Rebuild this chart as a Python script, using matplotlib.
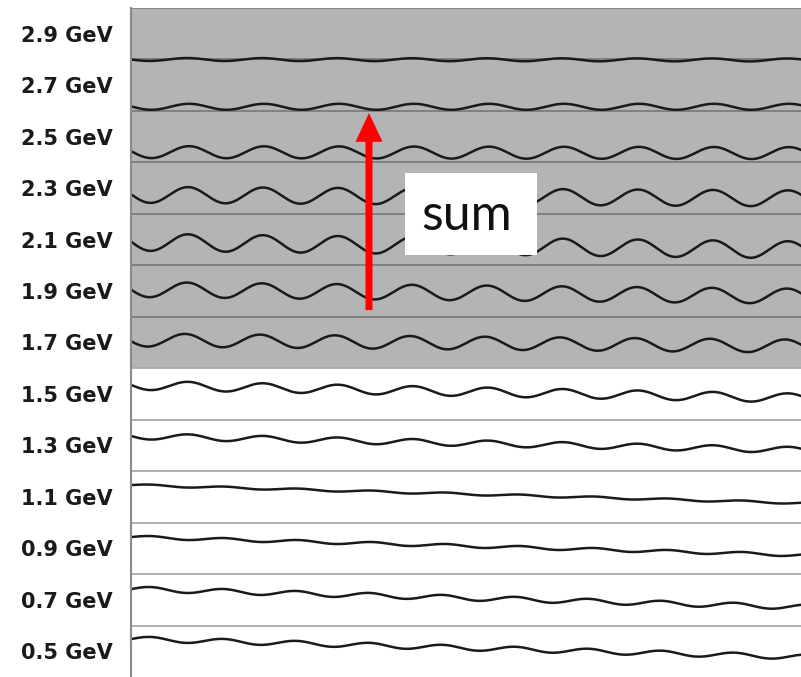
import numpy as np
import matplotlib
matplotlib.use("Agg")
import matplotlib.pyplot as plt
from matplotlib.patches import FancyArrow, Rectangle

# rows, bottom to top
energies = ["0.5 GeV", "0.7 GeV", "0.9 GeV", "1.1 GeV", "1.3 GeV", "1.5 GeV", "1.7 GeV",
            "1.9 GeV", "2.1 GeV", "2.3 GeV", "2.5 GeV", "2.7 GeV", "2.9 GeV"]
# wave centre (in row units) at the left and right end of the trace
centre_left = [0.74, 1.71, 2.72, 3.73, 4.68, 5.67, 6.55, 7.53, 8.45, 9.37, 10.20, 11.08, 12.00]
centre_right = [0.39, 1.36, 2.37, 3.38, 4.41, 5.42, 6.43, 7.40, 8.30, 9.30, 10.18, 11.08, 11.99]
# oscillation amplitude (px), period (px) and first crest position (px)
amplitude = [2.5, 2.5, 1.5, 1.0, 3.0, 4.5, 6.5, 7.5, 8.5, 8.0, 6.0, 3.0, 1.5]
period = [73, 73, 74, 74, 75, 75, 75, 75, 75, 75, 75, 75, 75]
crest = [19, 19, 19, 19, 57, 57, 54, 56, 57, 57, 58, 58, 56]
n_summed = 7   # top rows that go into the sum

width_px = 670
row_px = 669 / 13

fig = plt.figure(figsize=(8.01, 6.77), dpi=100)
ax = fig.add_axes([131 / 801, 0, 670 / 801, 669 / 677])

n = len(energies)
ax.axhspan(n - n_summed, n, color="#b4b4b4", lw=0, zorder=0)
ax.axhline(n, color="#8a8a8a", lw=1.5, zorder=1)

for i in range(1, n):
    c = "#7c7c7c" if i > n - n_summed else "#a8a8a8"
    ax.axhline(i, color=c, lw=1.3, zorder=1)

x = np.linspace(0, width_px, 1200)
for i in range(n):
    base = centre_left[i] + (centre_right[i] - centre_left[i]) * x / width_px
    y = base + amplitude[i] / row_px * np.cos(2 * np.pi * (x - crest[i]) / period[i])
    ax.plot(x, y, color="#1a1a1a", lw=1.8, zorder=2)

ax.add_patch(FancyArrow(238, 7.13, 0, 10.96 - 7.13, width=7, head_width=27,
                        head_length=0.56, length_includes_head=True,
                        color="#ff0000", lw=0, zorder=4))
ax.add_patch(Rectangle((274, 8.20), 132, 1.59, facecolor="white", edgecolor="none", zorder=5))
ax.text(336, 8.69, "sum", fontsize=36, family="Lato", ha="center", va="baseline",
        color="#111111", zorder=6)

ax.set_xlim(0, width_px)
ax.set_ylim(0, n)
ax.set_xticks([])
ax.set_yticks(np.arange(n) + 0.5)
ax.set_yticklabels(energies, fontsize=15, fontweight="bold", color="#1a1a1a")
ax.tick_params(axis="y", length=0, pad=13)
for s in ["top", "right", "bottom"]:
    ax.spines[s].set_visible(False)
ax.spines["left"].set_color("#8a8a8a")
ax.spines["left"].set_linewidth(1.5)

fig.savefig("out.png", dpi=100)
